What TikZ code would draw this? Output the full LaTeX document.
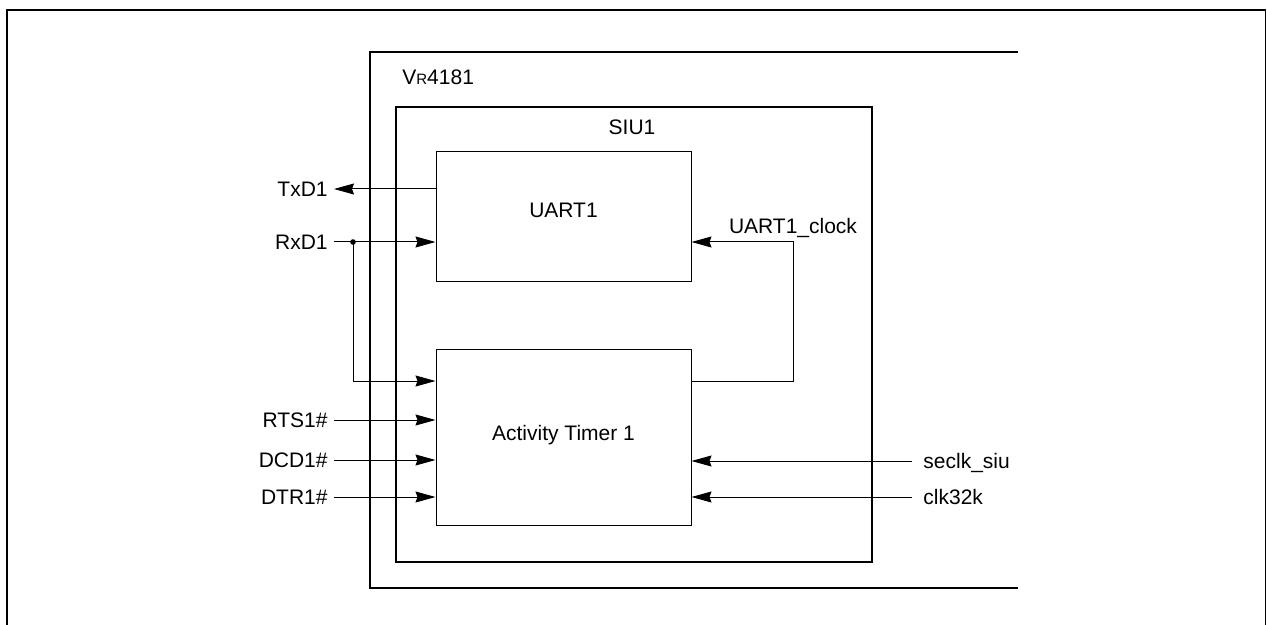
\documentclass[tikz,border=0pt]{standalone}
\usepackage{fontspec}
\setmainfont{Liberation Sans}
\usepackage{tikz}
\usetikzlibrary{arrows.meta, calc}

\begin{document}
\begin{tikzpicture}[
    x=0.5pt, y=-0.5pt,
    every node/.style={font=\fontsize{10.5}{12.6}\selectfont},
    block/.style={rectangle, draw, line width=0.5pt, inner sep=0pt},
    outline/.style={line width=1pt},
    caption/.style={inner sep=0pt, text height=7.5pt, text depth=0pt},
    sig/.style={inner xsep=3pt, inner ysep=0pt, text height=7.5pt, text depth=0pt},
    sigr/.style={inner xsep=5.5pt, inner ysep=0pt, text height=7.5pt, text depth=0pt, anchor=west},
    wire/.style={line width=0.5pt, -{Stealth[length=10pt, width=5.5pt, inset=1pt]}}
]
    \useasboundingbox (0,0) rectangle (1267,625);
    \draw[line width=0.7pt] (7,625) -- (7,10) -- (1265.5,10) -- (1265.5,625);

    \draw[outline] (1018,52) -- (370,52) -- (370,588) -- (1018,588);
    \node[caption, anchor=west] (vr) at (402,77) {V{\fontsize{7.5}{9}\selectfont R}4181};

    \node[block, outline, minimum width=238pt, minimum height=227.5pt] (siu) at (634,334.5) {};
    \node[caption] (siulbl) at (632,127) {SIU1};

    \node[block, minimum width=127.5pt, minimum height=65pt] (uart) at (563.5,217) {};
    \node[block, minimum width=127.5pt, minimum height=88pt] (timer) at (563.5,437) {};
    \node[caption] (uartlbl) at (563.5,210.5) {UART1};
    \node[caption] (timerlbl) at (563.5,432.5) {Activity Timer 1};

    \node[sig, anchor=east] (txd) at (334,189) {TxD1};
    \node[sig, anchor=east] (rxd) at (334,242) {RxD1};
    \node[sig, anchor=east] (rts) at (334,420) {RTS1\#};
    \node[sig, anchor=east] (dcd) at (334,460) {DCD1\#};
    \node[sig, anchor=east] (dtr) at (334,497) {DTR1\#};
    \node[sigr] (seclk) at (912,461) {seclk\_siu};
    \node[sigr] (clk32) at (912,497) {clk32k};

    \coordinate (split) at (353,242);
    \coordinate (clk) at (793,381);

    \draw[wire] (uart.west |- txd.east) -- (txd.east);
    \draw[wire] (rxd.east) -- (uart.west |- rxd.east);
    \fill (split) circle (1.4pt);
    \draw[wire] (split) |- (timer.west |- clk);
    \draw[wire] (rts.east) -- (timer.west |- rts.east);
    \draw[wire] (dcd.east) -- (timer.west |- dcd.east);
    \draw[wire] (dtr.east) -- (timer.west |- dtr.east);
    \draw[wire] (timer.east |- clk) -- (clk) -- (clk |- rxd.east) node[above, inner ysep=2pt] (clklbl) {UART1\_clock} -- (uart.east |- rxd.east);
    \draw[wire] (seclk.west) -- (timer.east |- seclk.west);
    \draw[wire] (clk32.west) -- (timer.east |- clk32.west);
\end{tikzpicture}
\end{document}
